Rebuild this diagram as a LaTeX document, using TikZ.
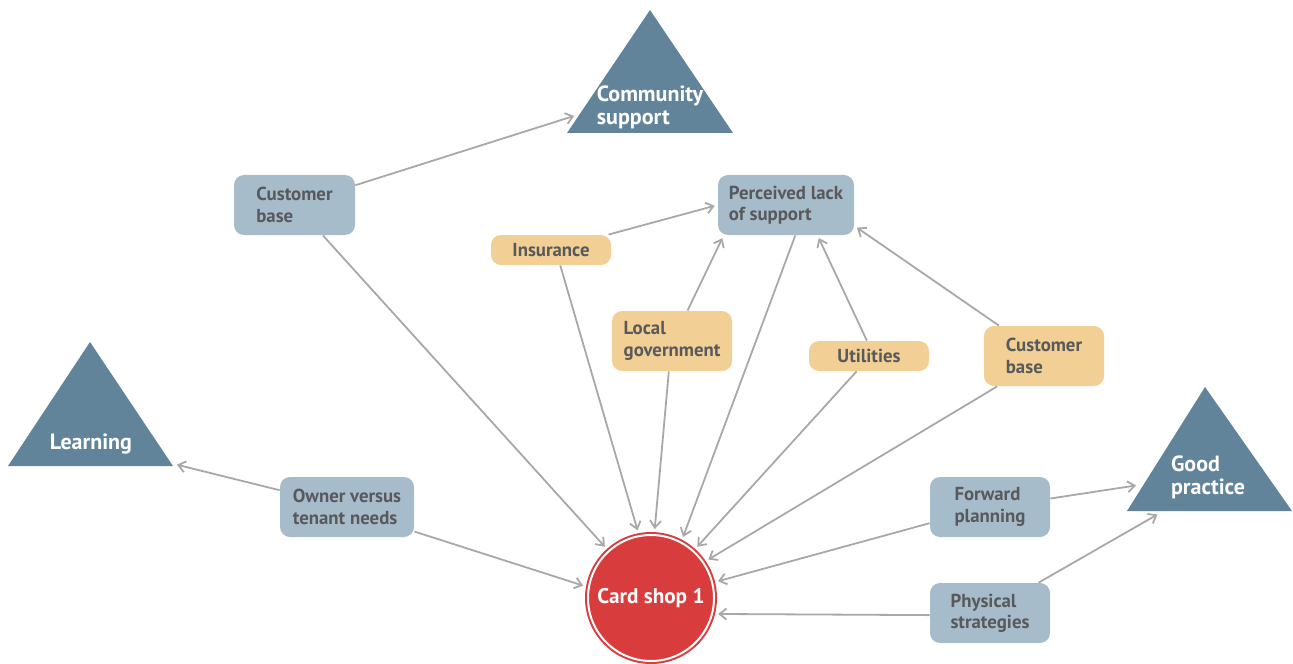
\documentclass[tikz,border=0pt]{standalone}
\usepackage{fontspec}
\setmainfont{PT Sans}
\usetikzlibrary{arrows.meta}
\definecolor{boxblue}{HTML}{A7BCCB}
\definecolor{boxorange}{HTML}{F2CF95}
\definecolor{triblue}{HTML}{62849A}
\definecolor{shopred}{HTML}{D93C3C}
\definecolor{txtgray}{HTML}{58595B}
\definecolor{arrgray}{HTML}{A8A8A8}
\begin{document}
\begin{tikzpicture}[x=0.5pt,y=-0.5pt,
  box/.style={rounded corners=5pt, inner sep=0pt, minimum width=60pt, minimum height=30pt, text=txtgray, font=\bfseries\fontsize{9.4}{10.6}\selectfont, align=left},
  bluebox/.style={box, fill=boxblue},
  orangebox/.style={box, fill=boxorange},
  tritext/.style={text=white, font=\bfseries\fontsize{11}{11.4}\selectfont, align=left},
  shop/.style={circle, fill=shopred, draw=shopred, double=white, double distance=1pt, line width=1pt, minimum size=63pt, inner sep=0pt, outer sep=1.5pt, text=white, font=\bfseries\fontsize{10.6}{12}\selectfont},
  link/.style={draw=arrgray, line width=0.9pt, -{Straight Barb[length=3.5pt,width=5.5pt]}, shorten >=1.5pt}]
\useasboundingbox (0,0) rectangle (1293,663);
% triangles
\fill[triblue] (650,10) -- (733,133) -- (567,133) -- cycle;
\fill[triblue] (90,342) -- (173,466) -- (8,466) -- cycle;
\fill[triblue] (1205,387) -- (1292,511) -- (1127,511) -- cycle;
\node[tritext] (comm) at (650,107) {Community\\support};
\node[tritext] (learn) at (91,444) {Learning};
\node[tritext] (good) at (1208,477) {Good\\practice};
\coordinate (commL) at (577,115);
\coordinate (learnR) at (174,464);
\coordinate (goodL) at (1139,485);
\coordinate (goodB) at (1160,513);
% boxes
\node[bluebox, minimum width=60.5pt] (cb1) at (294.5,205) {Customer\\base};
\node[bluebox, minimum width=68pt] (per) at (786,205) {Perceived lack\\of support};
\node[orangebox, minimum height=15pt] (ins) at (551,250) {Insurance};
\node[orangebox] (lg) at (672,341) {Local\\government};
\node[orangebox, minimum height=15pt] (util) at (869,356) {Utilities};
\node[orangebox] (cb2) at (1044,356) {Customer\\base};
\node[bluebox, minimum width=67pt] (own) at (347,507) {Owner versus\\tenant needs};
\node[bluebox] (fwd) at (990,507) {Forward\\planning};
\node[bluebox] (phys) at (990,613) {Physical\\strategies};
\node[shop] (card) at (651,598) {Card shop 1};
% links
\draw[link] (cb1.18) -- (commL);
\draw[link] (cb1.-47.5) -- (card.132);
\draw[link] (ins.15) -- (per.west);
\draw[link] (ins.-59) -- (card.101);
\draw[link] (lg.63) -- (per.-154);
\draw[link] (lg.-96) -- (card.87);
\draw[link] (per.-73) -- (card.62);
\draw[link] (util.98) -- (per.-44);
\draw[link] (util.-129) -- (card.48);
\draw[link] (cb2.146) -- (per.-17);
\draw[link] (cb2.-147) -- (card.34);
\draw[link] (own.166) -- (learnR);
\draw[link] (own.-20) -- (card.170);
\draw[link] (fwd.8.5) -- (goodL);
\draw[link] (fwd.-165) -- (card.14.5);
\draw[link] (phys.32) -- (goodB);
\draw[link] (phys.182) -- (card.-14);
\end{tikzpicture}
\end{document}
